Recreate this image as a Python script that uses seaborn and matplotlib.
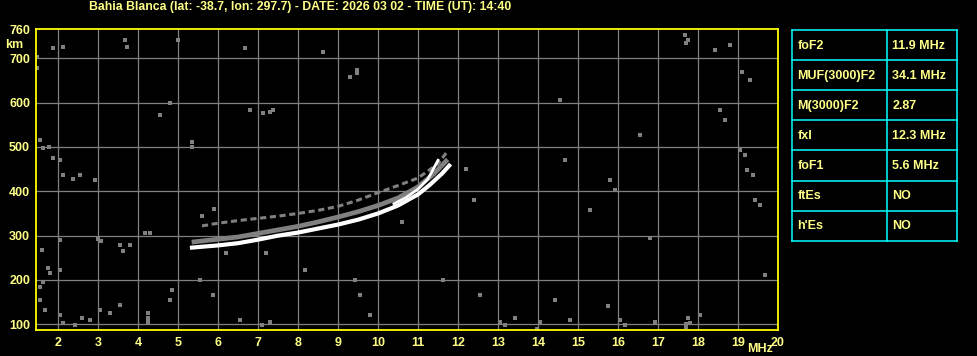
import matplotlib
matplotlib.use("Agg")
import matplotlib.pyplot as plt
import seaborn as sns
import pandas as pd

# ---------------- data ----------------
title = "Bahia Blanca (lat: -38.7, lon: 297.7) - DATE: 2026 03 02 - TIME (UT): 14:40"

x_ticks = [2, 3, 4, 5, 6, 7, 8, 9, 10, 11, 12, 13, 14, 15, 16, 17, 18, 19, 20]
y_ticks = [100, 200, 300, 400, 500, 600, 700, 760]

# ordinary (white) trace
o_freq = [5.35, 5.6, 6.0, 6.5, 7.0, 7.5, 8.0, 8.5, 9.0, 9.5, 10.0, 10.5, 11.0, 11.3, 11.6, 11.78]
o_height = [273, 275, 278, 283, 291, 300, 307, 316, 325, 336, 350, 368, 393, 415, 440, 458]

# second white strand near the critical frequency
x_freq = [10.4, 10.7, 11.0, 11.25, 11.5]
x_height = [372, 386, 405, 428, 470]

# grey band just above the main trace
g1_freq = [5.4, 6.0, 6.5, 7.0, 7.5, 8.0, 8.5, 9.0, 9.5, 10.0, 10.5, 11.0, 11.4, 11.7]
g1_height = [286, 292, 297, 305, 313, 321, 331, 342, 354, 368, 385, 410, 440, 468]

# upper broken grey band
g2_freq = [5.6, 6.0, 6.5, 7.0, 7.5, 8.0, 8.5, 9.0, 9.5, 10.0, 10.5, 11.0, 11.5, 11.75]
g2_height = [322, 328, 334, 339, 344, 350, 357, 366, 380, 397, 413, 430, 462, 492]

# scattered noise echoes
noise_freq = [1.48, 1.48, 1.88, 2.13, 3.68, 3.73, 5.0, 6.68, 8.63, 9.48, 9.48, 9.3,
              7.38, 7.3, 7.13, 6.8, 1.55, 1.63, 1.88, 1.78, 2.05, 2.13, 2.38, 2.55,
              2.93, 3.0, 3.08, 3.55, 3.63, 3.8, 5.35, 5.35, 4.55, 4.8, 4.18, 4.3,
              2.05, 1.6, 1.75, 2.05, 1.8, 1.55, 1.63, 1.55, 1.68, 2.05, 2.13, 2.43,
              2.6, 2.8, 3.05, 3.3, 3.55, 4.25, 4.25, 4.25, 4.8, 4.85, 5.55, 5.88,
              6.55, 7.1, 7.3, 9.43, 9.55, 8.18, 9.8, 11.63, 12.55, 13.05, 13.18, 13.43,
              14.05, 13.98, 14.43, 14.55, 14.68, 15.3, 15.8, 15.93, 16.55, 16.8, 17.68, 17.75,
              17.7, 18.43, 18.8, 19.1, 19.3, 19.05, 19.18, 19.23, 19.38, 18.55, 18.68, 19.43,
              19.55, 19.68, 17.8, 17.75, 18.05, 16.05, 16.18, 16.93, 15.75, 14.8, 17.7, 17.7,
              5.6, 6.2, 7.2, 12.2, 12.4, 10.6, 5.9]
noise_height = [703, 678, 723, 726, 742, 726, 742, 724, 714, 674, 667, 658,
                583, 579, 576, 583, 516, 498, 475, 500, 471, 437, 428, 437,
                426, 292, 287, 278, 266, 278, 511, 500, 572, 599, 306, 306,
                290, 268, 227, 223, 216, 184, 195, 155, 132, 121, 103, 98,
                114, 110, 132, 125, 144, 125, 114, 105, 155, 177, 200, 166,
                110, 98, 105, 200, 166, 223, 121, 200, 166, 105, 98, 114,
                105, 90, 155, 606, 471, 358, 426, 403, 527, 295, 753, 742,
                735, 719, 730, 669, 651, 493, 482, 448, 437, 583, 561, 380,
                369, 211, 103, 114, 121, 110, 98, 105, 141, 110, 95, 100,
                345, 262, 262, 450, 380, 330, 360]

param_names = ["foF2", "MUF(3000)F2", "M(3000)F2", "fxI", "foF1", "ftEs", "h'Es"]
param_values = ["11.9 MHz", "34.1 MHz", "2.87", "12.3 MHz", "5.6 MHz", "NO", "NO"]

# ---------------- style ----------------
YEL = "#ffff00"
TXT = "#ffff88"
GREY = "#808080"
CYAN = "#00ffff"
FONT = ["Liberation Sans", "DejaVu Sans"]
plt.rcParams["font.family"] = FONT
plt.rcParams["font.weight"] = "bold"

W, H = 978, 356
fig = plt.figure(figsize=(W / 100, H / 100), dpi=100, facecolor="black")

x0, x1, ytop, ybot = 35.6, 778.0, 29.3, 330.3
ax = fig.add_axes([x0 / W, 1 - ybot / H, (x1 - x0) / W, (ybot - ytop) / H])
ax.set_facecolor("black")

XMIN, XMAX, YMIN, YMAX = 1.44, 20.0, 86.5, 765.5

# grid
for f in x_ticks[:-1]:
    ax.axvline(f, color=GREY, lw=0.9, zorder=1)
for h in y_ticks[:-1]:
    ax.axhline(h, color=GREY, lw=0.9, zorder=1)

noise = pd.DataFrame({"freq": noise_freq, "height": noise_height})
sns.scatterplot(data=noise, x="freq", y="height", ax=ax, color=GREY, marker="s",
                s=5, linewidth=0, zorder=2)

sns.lineplot(x=g2_freq, y=g2_height, ax=ax, color=GREY, lw=2.2, sort=False,
             linestyle=(0, (2.0, 1.2)), zorder=3)
sns.lineplot(x=g1_freq, y=g1_height, ax=ax, color=GREY, lw=3.4, sort=False, zorder=3)
sns.lineplot(x=o_freq, y=o_height, ax=ax, color="white", lw=3.0, sort=False, zorder=4)
sns.lineplot(x=x_freq, y=x_height, ax=ax, color="white", lw=2.0, sort=False, zorder=4)

ax.set_xlim(XMIN, XMAX)
ax.set_ylim(YMIN, YMAX)
ax.set_xticks(x_ticks)
ax.set_xticklabels([str(v) for v in x_ticks])
ax.set_yticks([100, 200, 300, 400, 500, 600, 700, YMAX])
ax.set_yticklabels([str(v) for v in y_ticks])
ax.tick_params(axis="both", length=0, colors=TXT, labelsize=9)
ax.tick_params(axis="x", pad=5)
ax.tick_params(axis="y", pad=4)
for lab in ax.get_xticklabels() + ax.get_yticklabels():
    lab.set_fontweight("bold")
ax.set_xlabel("")
ax.set_ylabel("")
for sp in ax.spines.values():
    sp.set_color(YEL)
    sp.set_linewidth(1.3)
    sp.set_zorder(6)

fig.text(300 / W, 1 - 7 / H, title, color=TXT, fontsize=8.8, fontweight="bold",
         ha="center", va="center")
fig.text(14 / W, 1 - 45 / H, "km", color=TXT, fontsize=9, fontweight="bold",
         ha="center", va="center")
fig.text(760 / W, 1 - 349 / H, "MHz", color=TXT, fontsize=9, fontweight="bold",
         ha="center", va="center")

# ---------------- parameter table ----------------
tl, tr, tt, tb = 792.3, 957.3, 30.0, 240.7
tax = fig.add_axes([tl / W, 1 - tb / H, (tr - tl) / W, (tb - tt) / H])
tax.set_xlim(0, tr - tl)
tax.set_ylim(len(param_names), 0)
tax.axis("off")
n = len(param_names)
for i in range(n + 1):
    tax.plot([0, tr - tl], [i, i], color=CYAN, lw=1.1, clip_on=False)
for xv in [0, 887.3 - tl, tr - tl]:
    tax.plot([xv, xv], [0, n], color=CYAN, lw=1.1, clip_on=False)
for i, (nm, val) in enumerate(zip(param_names, param_values)):
    tax.text(5, i + 0.52, nm, color=TXT, fontsize=9, fontweight="bold",
             ha="left", va="center")
    tax.text(887.3 - tl + 5, i + 0.52, val, color=TXT, fontsize=9,
             fontweight="bold", ha="left", va="center")

fig.savefig("out.png", dpi=100, facecolor="black")
